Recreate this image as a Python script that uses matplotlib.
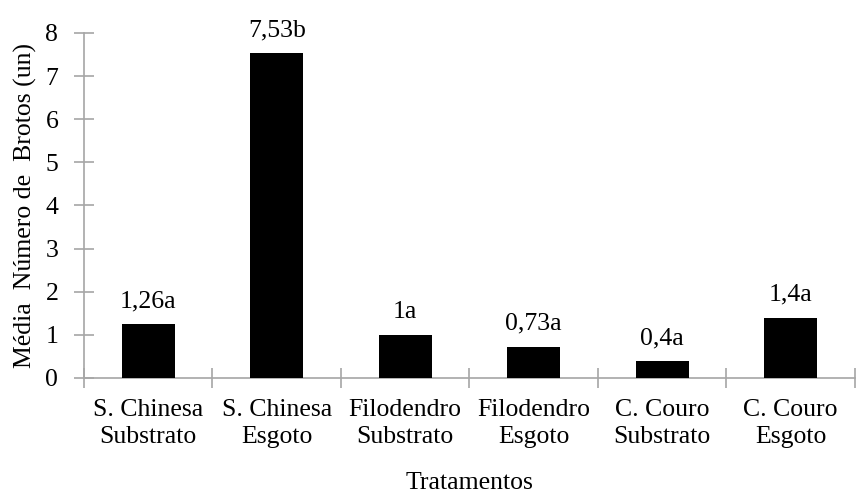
import matplotlib
matplotlib.use("Agg")
import matplotlib.pyplot as plt
import numpy as np

# Data
categories = ["S. Chinesa\nSubstrato", "S. Chinesa\nEsgoto", "Filodendro\nSubstrato",
              "Filodendro\nEsgoto", "C. Couro\nSubstrato", "C. Couro\nEsgoto"]
means = [1.26, 7.53, 1.0, 0.73, 0.4, 1.4]
bar_labels = ["1,26a", "7,53b", "1a", "0,73a", "0,4a", "1,4a"]
y_ticks = [0, 1, 2, 3, 4, 5, 6, 7, 8]

# Times-like look; passed explicitly to every text
font = dict(family=["Liberation Serif", "DejaVu Serif"], size=18.5)
axis_grey = "#a6a6a6"

fig = plt.figure(figsize=(8.56, 4.93), dpi=100)
ax = fig.add_axes([0.0981, 0.2333, 0.9007, 0.6998])

x = np.arange(len(categories))
bars = ax.bar(x, means, width=0.41, color="black", zorder=3)

for rect, lab in zip(bars, bar_labels):
    ax.annotate(lab, (rect.get_x() + rect.get_width() / 2, rect.get_height()),
                xytext=(0, 12), textcoords="offset points",
                ha="center", va="baseline", **font)

ax.set_xlim(-0.5, len(categories) - 0.5)
ax.set_ylim(0, 8)
ax.set_yticks(y_ticks)
ax.set_yticklabels([str(v) for v in y_ticks], **font)

# category separators as x ticks, labels centred under the bars
ax.set_xticks(np.arange(-0.5, len(categories), 1.0))
ax.set_xticklabels([])
ax.set_xticks(x, minor=True)
ax.set_xticklabels(categories, minor=True, linespacing=1.3, **font)
ax.tick_params(axis="x", which="minor", length=0, pad=15)
ax.tick_params(axis="x", which="major", direction="inout", length=15,
               color=axis_grey, width=1.2)
ax.tick_params(axis="y", direction="inout", length=15, color=axis_grey,
               width=1.2, pad=11)

for side in ["top", "right"]:
    ax.spines[side].set_visible(False)
for side in ["left", "bottom"]:
    ax.spines[side].set_color(axis_grey)
    ax.spines[side].set_linewidth(1.2)

ax.set_xlabel("Tratamentos", labelpad=17, **font)
ax.set_ylabel("Média  Número de  Brotos (un)", labelpad=6, **font)

fig.savefig("out.png", dpi=100)
